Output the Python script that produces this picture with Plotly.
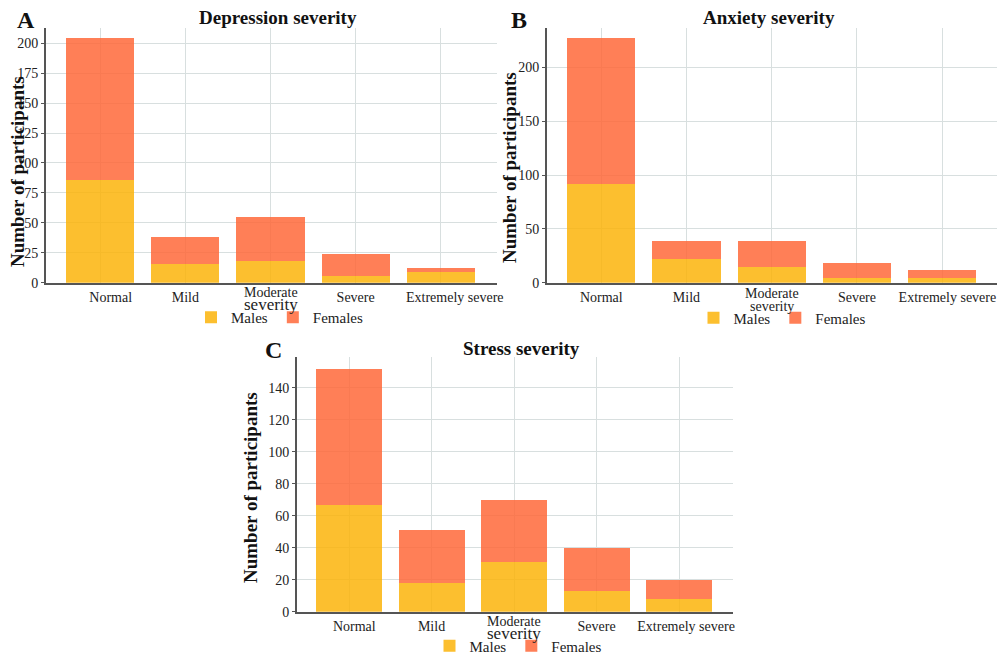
import plotly.graph_objects as go

W, H = 1007, 655
OFF = 8  # page body margin
FW, FH = W - OFF, H - OFF

categories = ["Normal", "Mild", "Moderate severity", "Severe", "Extremely severe"]

dep_males = [86, 16, 18, 6, 9]
dep_females = [118, 22, 37, 18, 3]

anx_males = [92, 22, 15, 4, 4]
anx_females = [135, 17, 24, 14, 8]

str_males = [67, 18, 31, 13, 8]
str_females = [85, 33, 39, 27, 12]

YELLOW = "rgba(252,180,10,0.85)"
ORANGE = "rgba(255,105,58,0.85)"
FONT = "Liberation Serif"
TXT = "#222222"
NB = "\u00a0"


def px_x(x):
    return (x - OFF) / FW


def px_y(y):
    return 1 - (y - OFF) / FH


panels = [
    dict(m=dep_males, f=dep_females, x=(45.7, 497), y=(27.7, 282.7), yr=[0, 213], dt=25,
         title="Depression severity", tpos=(278, 17), letter="A", lpos=(26, 20),
         ylab=(18, 172), leg=(279.5, 317.5), mod=292.5, sev=(305, 17), xr=[-0.64, 4.66], pad=(6, 8)),
    dict(m=anx_males, f=anx_females, x=(546.7, 996.7), y=(27.7, 282.7), yr=[0, 237], dt=50,
         title="Anxiety severity", tpos=(769, 17), letter="B", lpos=(519.5, 20),
         ylab=(510, 168), leg=(782, 318), mod=293.5, sev=(306, 14), xr=[-0.64, 4.64], pad=(0, 3)),
    dict(m=str_males, f=str_females, x=(296.7, 732.7), y=(356.7, 611.7), yr=[0, 159.4], dt=20,
         title="Stress severity", tpos=(521, 348), letter="C", lpos=(273.5, 350),
         ylab=(250, 488), leg=(518, 646), mod=621, sev=(633.5, 17), xr=[-0.634, 4.65], pad=(3, 4)),
]

fig = go.Figure()
annotations = []
layout = {}
for i, p in enumerate(panels, start=1):
    sfx = "" if i == 1 else str(i)
    legname = "legend" if i == 1 else f"legend{i}"
    fig.add_trace(go.Bar(x=categories, y=p["m"], name="Males", marker=dict(color=YELLOW, line=dict(width=0)),
                         width=0.8, xaxis=f"x{sfx}", yaxis=f"y{sfx}", legend=legname))
    fig.add_trace(go.Bar(x=categories, y=p["f"], name="Females", marker=dict(color=ORANGE, line=dict(width=0)),
                         width=0.8, xaxis=f"x{sfx}", yaxis=f"y{sfx}", legend=legname))
    tick_labels = [NB * p["pad"][0] + "Normal", "Mild", "", "Severe", NB * p["pad"][1] + "Extremely severe"]
    layout[f"xaxis{sfx}"] = dict(
        domain=[px_x(p["x"][0]), px_x(p["x"][1])], anchor=f"y{sfx}",
        range=p["xr"], tickmode="array", tickvals=categories, ticktext=tick_labels, tickangle=0,
        showgrid=True, gridcolor="#d8dfdf", gridwidth=1,
        showline=True, linecolor="#555555", linewidth=1.5,
        ticks="", ticklabelstandoff=1,
        tickfont=dict(family=FONT, size=14, color=TXT), zeroline=False,
    )
    layout[f"yaxis{sfx}"] = dict(
        domain=[px_y(p["y"][1]), px_y(p["y"][0])], anchor=f"x{sfx}",
        range=p["yr"], dtick=p["dt"], tick0=0,
        showgrid=True, gridcolor="#d8dfdf", gridwidth=1,
        showline=True, linecolor="#555555", linewidth=1.5,
        ticks="outside", ticklen=3, tickcolor="#555555", ticklabelstandoff=0,
        tickfont=dict(family=FONT, size=14, color=TXT), zeroline=False,
    )
    layout[legname] = dict(
        orientation="h", x=px_x(p["leg"][0]), y=px_y(p["leg"][1]),
        xanchor="center", yanchor="middle", bgcolor="rgba(0,0,0,0)",
        font=dict(family=FONT, size=15, color=TXT), itemwidth=30, tracegroupgap=0,
        traceorder="normal",
    )
    annotations.append(dict(text="Moderate", x=categories[2], xref=f"x{sfx}",
                            y=px_y(p["mod"]), yref="paper", showarrow=False,
                            xanchor="center", yanchor="middle",
                            font=dict(family=FONT, size=14, color=TXT)))
    annotations.append(dict(text="severity", x=categories[2], xref=f"x{sfx}",
                            y=px_y(p["sev"][0]), yref="paper", showarrow=False,
                            xanchor="center", yanchor="middle",
                            font=dict(family=FONT, size=p["sev"][1], color=TXT)))
    annotations.append(dict(text=f"<b>{p['title']}</b>", x=px_x(p["tpos"][0]), y=px_y(p["tpos"][1]),
                            xref="paper", yref="paper", showarrow=False, xanchor="center", yanchor="middle",
                            font=dict(family=FONT, size=19, color="#111111")))
    annotations.append(dict(text=f"<b>{p['letter']}</b>", x=px_x(p["lpos"][0]), y=px_y(p["lpos"][1]),
                            xref="paper", yref="paper", showarrow=False, xanchor="center", yanchor="middle",
                            font=dict(family=FONT, size=24, color="#111111")))
    annotations.append(dict(text="<b>Number of participants</b>", x=px_x(p["ylab"][0]), y=px_y(p["ylab"][1]),
                            xref="paper", yref="paper", showarrow=False, xanchor="center", yanchor="middle",
                            textangle=-90, font=dict(family=FONT, size=19, color="#111111")))

fig.update_layout(
    width=FW, height=FH, margin=dict(l=0, r=0, t=0, b=0, autoexpand=False),
    paper_bgcolor="white", plot_bgcolor="white",
    barmode="stack", bargap=0.2, showlegend=True,
    annotations=annotations, **layout,
)

fig.write_html("out.html")
